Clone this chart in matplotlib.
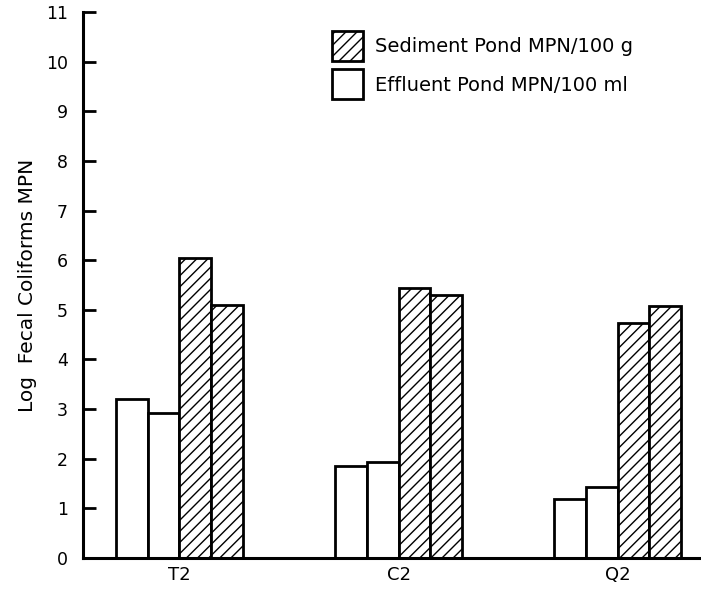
import numpy as np
import matplotlib
matplotlib.use("Agg")
import matplotlib.pyplot as plt
from matplotlib.patches import Patch

# data
sites = ["T2", "C2", "Q2"]
effluent_a = [3.2, 1.85, 1.18]
effluent_b = [2.93, 1.93, 1.43]
sediment_a = [6.05, 5.44, 4.73]
sediment_b = [5.1, 5.3, 5.07]

plt.rcParams['font.family'] = ['DejaVu Sans']
plt.rcParams['hatch.linewidth'] = 1.0

fig = plt.figure(figsize=(7.01, 5.91), dpi=100)
ax = fig.add_axes([0.1184, 0.0558, 0.8816, 0.9239])

x = np.arange(len(sites))
w = 0.145
offs = [-1.5 * w, -0.5 * w, 0.5 * w, 1.5 * w]
kw = dict(width=w, edgecolor='black', linewidth=2.0)
ax.bar(x + offs[0], effluent_a, facecolor='white', **kw)
ax.bar(x + offs[1], effluent_b, facecolor='white', **kw)
ax.bar(x + offs[2], sediment_a, facecolor='white', hatch='///', **kw)
ax.bar(x + offs[3], sediment_b, facecolor='white', hatch='///', **kw)

ax.set_xlim(-0.44, 2.38)
ax.set_ylim(0, 11)
ax.set_yticks(range(0, 12))
ax.set_xticks(x)
ax.set_xticklabels(sites, fontsize=13)
ax.tick_params(axis='y', direction='in', length=9, width=2, labelsize=12.5, pad=11)
ax.tick_params(axis='x', length=0, labelsize=13, pad=6)
for s in ['top', 'right']:
    ax.spines[s].set_visible(False)
for s in ['left', 'bottom']:
    ax.spines[s].set_linewidth(2.2)
ax.set_ylabel("Log  Fecal Coliforms MPN", fontsize=14.5, labelpad=6)

handles = [Patch(facecolor='white', edgecolor='black', linewidth=2, hatch='///'),
           Patch(facecolor='white', edgecolor='black', linewidth=2)]
ax.legend(handles, ["Sediment Pond MPN/100 g", "Effluent Pond MPN/100 ml"],
          loc='upper left', bbox_to_anchor=(0.375, 0.998), frameon=False,
          fontsize=14, handlelength=1.6, handleheight=2.0, labelspacing=0.45,
          handletextpad=0.6)

fig.savefig("out.png", dpi=100)
